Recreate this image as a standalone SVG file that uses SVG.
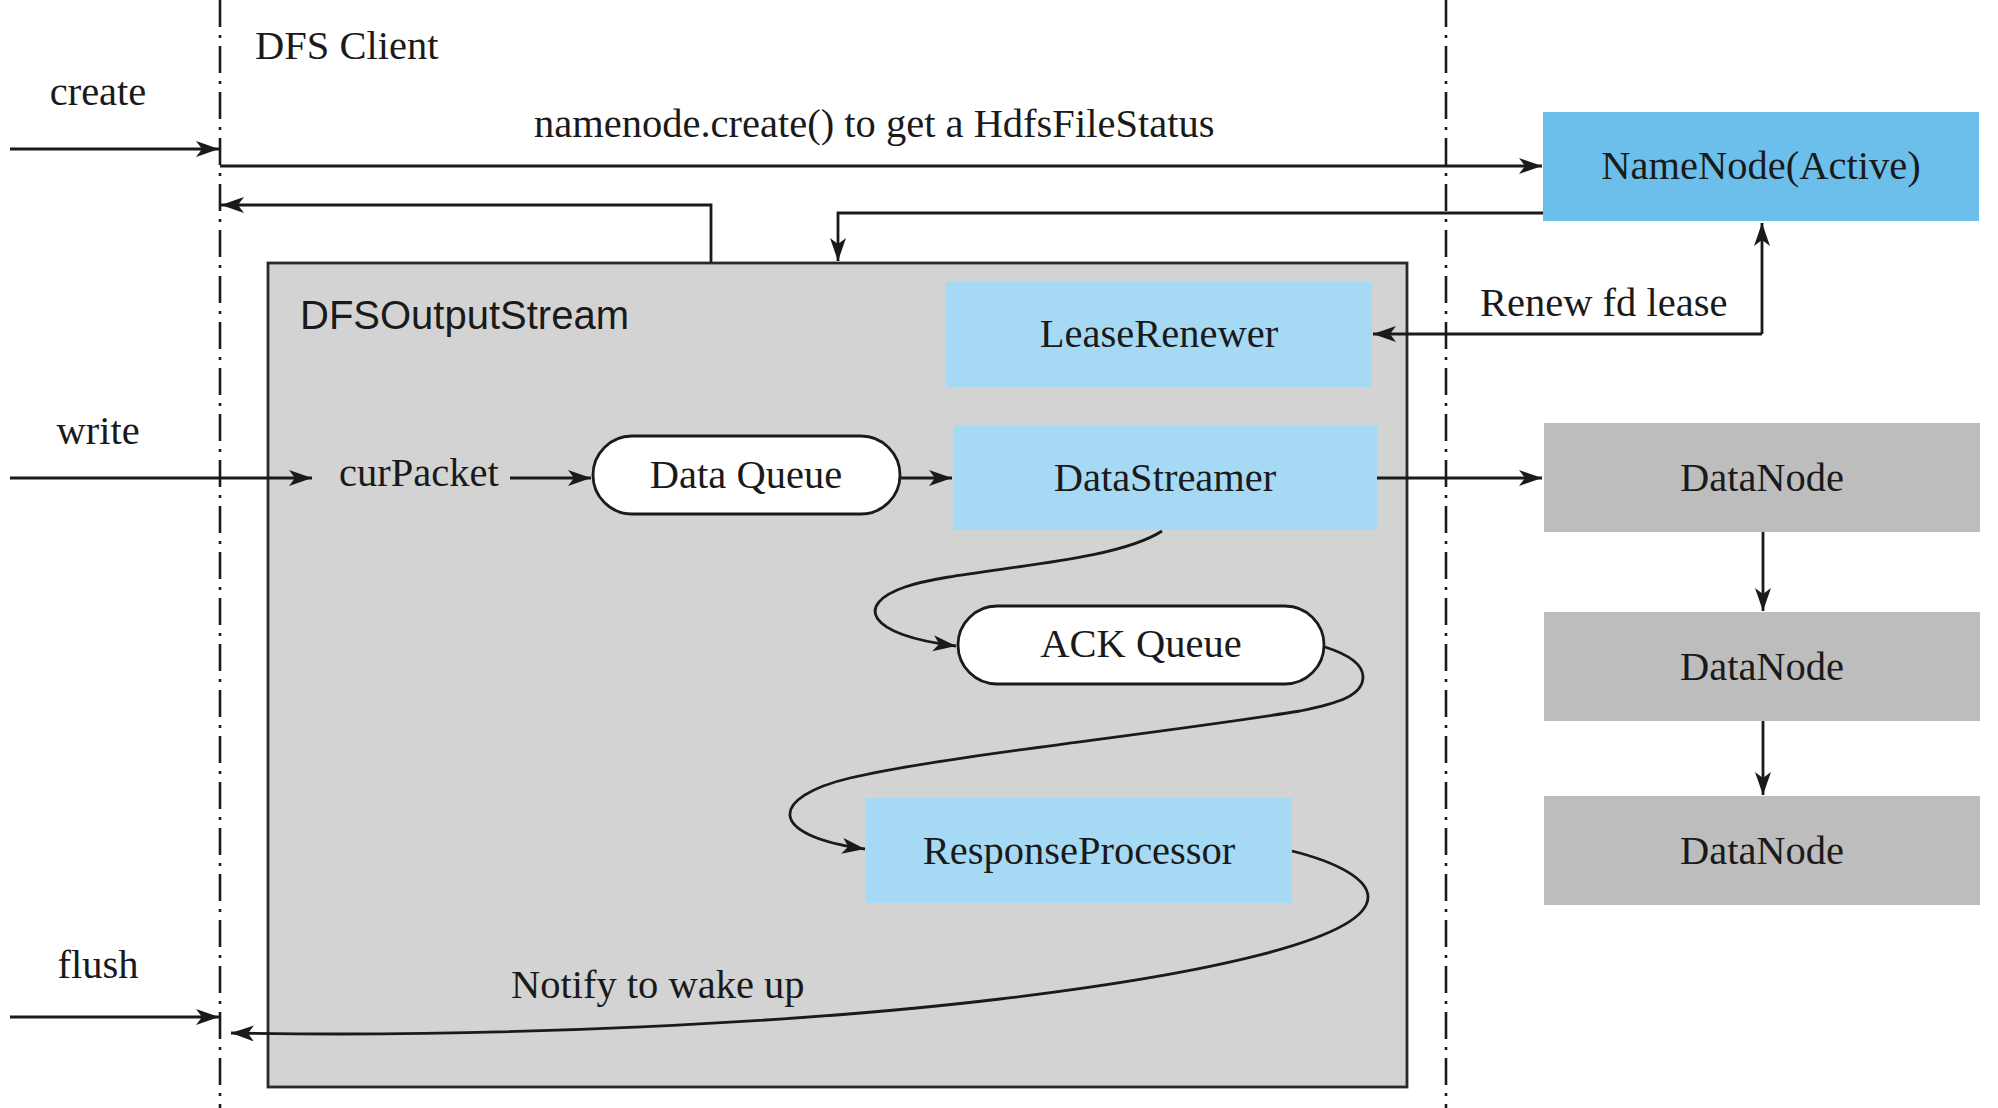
<svg xmlns="http://www.w3.org/2000/svg" width="1998" height="1108" viewBox="0 0 1998 1108">
<style>
  .serif{font-family:"Liberation Serif","Times New Roman",serif;font-size:40.5px;fill:#1a1a1a}
  .sans{font-family:"Liberation Sans",Arial,sans-serif;font-size:40px;fill:#1a1a1a}
  .mid{text-anchor:middle}
  .line{fill:none;stroke:#1a1a1a;stroke-width:2.8}
  .dashdot{fill:none;stroke:#1a1a1a;stroke-width:2.6;stroke-dasharray:27 8 3 8}
  .blue{fill:#6cbfeb}
  .lblue{fill:#a6d9f3}
  .gray{fill:#bebdbe}
  .queue{fill:#ffffff;stroke:#1a1a1a;stroke-width:2.8}
</style>
<defs>
  <marker id="arr" markerUnits="userSpaceOnUse" markerWidth="26" markerHeight="18" refX="23" refY="8" orient="auto">
    <path d="M0,0 L23,8 L0,16 L6,8 z" fill="#1a1a1a"/>
  </marker>
</defs>
<rect width="1998" height="1108" fill="#ffffff"/>

<g id="lifelines">
  <line class="dashdot" x1="220" y1="0" x2="220" y2="1108"/>
  <line class="dashdot" x1="1446" y1="0" x2="1446" y2="1108"/>
  <text class="serif" x="255" y="59">DFS Client</text>
</g>

<g id="dfsoutputstream">
  <rect x="268" y="263" width="1139" height="824" fill="#d3d3d3" stroke="#2a2a2a" stroke-width="2.8"/>
  <text class="sans" x="300" y="329">DFSOutputStream</text>
</g>

<g id="namenode">
  <rect class="blue" x="1543" y="112" width="436" height="109"/>
  <text class="serif mid" x="1761" y="179">NameNode(Active)</text>
</g>

<g id="leaserenewer">
  <rect class="lblue" x="946" y="282" width="426" height="105"/>
  <text class="serif mid" x="1159" y="347">LeaseRenewer</text>
</g>

<g id="datastreamer">
  <rect class="lblue" x="953" y="425" width="424" height="105"/>
  <text class="serif mid" x="1165" y="491">DataStreamer</text>
</g>

<g id="responseprocessor">
  <rect class="lblue" x="866" y="798" width="426" height="105"/>
  <text class="serif mid" x="1079" y="864">ResponseProcessor</text>
</g>

<g id="dataqueue">
  <rect class="queue" x="593" y="436" width="307" height="78" rx="39" ry="39"/>
  <text class="serif mid" x="746" y="488">Data Queue</text>
</g>

<g id="ackqueue">
  <rect class="queue" x="958" y="606" width="366" height="78" rx="39" ry="39"/>
  <text class="serif mid" x="1141" y="657">ACK Queue</text>
</g>

<g id="curpacket">
  <text class="serif" x="339" y="486">curPacket</text>
</g>

<g id="datanode1">
  <rect class="gray" x="1544" y="423" width="436" height="109"/>
  <text class="serif mid" x="1762" y="491">DataNode</text>
</g>
<g id="datanode2">
  <rect class="gray" x="1544" y="612" width="436" height="109"/>
  <text class="serif mid" x="1762" y="680">DataNode</text>
</g>
<g id="datanode3">
  <rect class="gray" x="1544" y="796" width="436" height="109"/>
  <text class="serif mid" x="1762" y="864">DataNode</text>
</g>

<g id="connectors">
  <line class="line" x1="10" y1="149" x2="219" y2="149" marker-end="url(#arr)"/>
  <text class="serif mid" x="98" y="105">create</text>
  <line class="line" x1="10" y1="478" x2="312" y2="478" marker-end="url(#arr)"/>
  <text class="serif mid" x="98" y="444">write</text>
  <line class="line" x1="10" y1="1017" x2="219" y2="1017" marker-end="url(#arr)"/>
  <text class="serif mid" x="98" y="978">flush</text>

  <line class="line" x1="220" y1="166" x2="1542" y2="166" marker-end="url(#arr)"/>
  <text class="serif" x="534" y="137">namenode.create() to get a HdfsFileStatus</text>

  <polyline class="line" points="1543,213 838,213 838,261" marker-end="url(#arr)"/>
  <polyline class="line" points="711,262 711,205 221,205" marker-end="url(#arr)"/>

  <polyline class="line" points="1762,334 1762,223" marker-end="url(#arr)"/>
  <polyline class="line" points="1762,334 1373,334" marker-end="url(#arr)"/>
  <text class="serif" x="1480" y="316">Renew fd lease</text>

  <line class="line" x1="510" y1="478" x2="591" y2="478" marker-end="url(#arr)"/>
  <line class="line" x1="900" y1="478" x2="952" y2="478" marker-end="url(#arr)"/>
  <line class="line" x1="1377" y1="478" x2="1542" y2="478" marker-end="url(#arr)"/>

  <line class="line" x1="1763" y1="532" x2="1763" y2="611" marker-end="url(#arr)"/>
  <line class="line" x1="1763" y1="721" x2="1763" y2="795" marker-end="url(#arr)"/>

  <path class="line" d="M1162,531 C1110,565 960,568 905,587 C855,604 865,635 956,646" marker-end="url(#arr)"/>
  <path class="line" d="M1325,647 C1350,655 1363,665 1363,677 C1363,695 1340,703 1300,711 C1150,735 950,755 850,778 C770,797 765,835 865,849" marker-end="url(#arr)"/>
  <path class="line" d="M1292,851 C1340,863 1368,880 1368,897 C1368,940 1200,975 1000,999 C800,1023 500,1038 231,1033" marker-end="url(#arr)"/>
  <text class="serif" x="511" y="998">Notify to wake up</text>
</g>
</svg>
